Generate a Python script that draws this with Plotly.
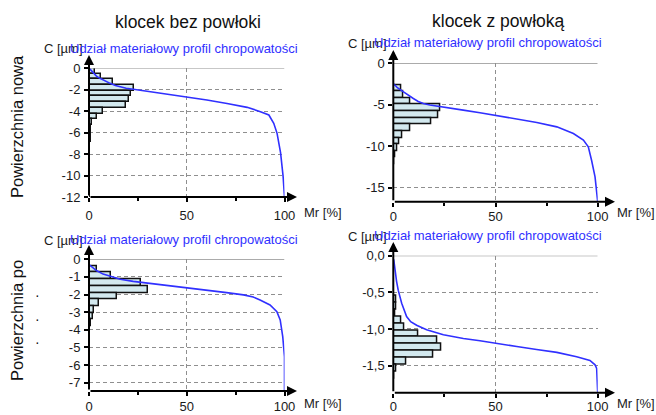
import plotly.graph_objects as go

W, H = 656, 415
FONT = "Liberation Sans, Arial, sans-serif"
BLUE = "#3030ff"
GRID = "#8f8f8f"
BARFILL = "#d3e9ef"

# ---------------- data ----------------
col_titles = ["klocek bez powłoki", "klocek z powłoką"]
row_titles = ["Powierzchnia nowa", "Powierzchnia po"]
panel_title = "Udział materiałowy profil chropowatości"
y_label = "C [µm]"
x_label = "Mr [%]"

x_ticks = [0, 50, 100]

# top-left: histogram (percent per bin), bins start at tl_start, width tl_w
tl_start, tl_w = 0.0, 0.53
tl_hist = [3.2, 6.0, 12.5, 23.0, 21.5, 20.5, 19.0, 7.0, 4.0, 1.6, 1.2, 1.0,
           0.8, 0.7, 0.6, 0.5, 0.5, 0.4, 0.4, 0.3, 0.3, 0.3, 0.3]
tl_mr = [0, 1, 2.2, 3.8, 5.6, 8, 10.8, 13.5, 15.9, 19, 22.7, 31, 39.8, 50,
         60.3, 70.6, 80.9, 87.7, 92, 94.5, 96.2, 98, 99.3, 100]
tl_c = [0, -0.2, -0.5, -0.75, -0.96, -1.2, -1.43, -1.62, -1.76, -1.88, -1.98,
        -2.2, -2.42, -2.67, -2.98, -3.3, -3.66, -4.06, -4.37, -5.15, -6.08,
        -7.9, -10.1, -12]
tl_yticks = [0, -2, -4, -6, -8, -10, -12]
tl_ytext = ["0", "-2", "-4", "-6", "-8", "-10", "-12"]
tl_yrange = [-12, 0]

# top-right
tr_start, tr_w = -2.6, 0.8
tr_hist = [3.7, 5.0, 8.5, 23.0, 22.0, 18.5, 8.5, 4.2, 2.7, 1.8, 0.9, 0.5]
tr_mr = [0.3, 2, 5, 7.5, 9.8, 12.2, 14.7, 17.9, 21.2, 26.1, 34.2, 42.4, 50.6,
         60.4, 70.2, 80, 88.1, 93, 95.4, 97, 98.7, 100]
tr_c = [-2.5, -2.95, -3.45, -3.9, -4.25, -4.6, -4.85, -5.04, -5.15, -5.32,
        -5.65, -5.97, -6.33, -6.73, -7.14, -7.67, -8.47, -9.27, -10.08, -11.7,
        -13.7, -16.7]
tr_yticks = [0, -5, -10, -15]
tr_ytext = ["0", "-5", "-10", "-15"]
tr_yrange = [-16.7, 0]

# bottom-left
bl_start, bl_w = 0.0, 0.38
bl_hist = [0.5, 3.9, 11.3, 26.7, 30.0, 14.2, 5.1, 2.6, 2.2, 0.8, 0.6, 0.5,
           0.4, 0.3, 0.3, 0.3, 0.2, 0.2, 0.2, 0.2]
bl_mr = [0, 1.8, 3.8, 7.2, 11.5, 16, 22.6, 31.1, 39.7, 49.9, 60.2, 70.4, 79,
         84, 87.5, 92.6, 96.1, 97.8, 99.1, 100, 100]
bl_c = [-0.3, -0.48, -0.64, -0.84, -0.99, -1.13, -1.25, -1.36, -1.47, -1.6,
        -1.74, -1.89, -2.02, -2.14, -2.31, -2.59, -2.97, -3.44, -4.39, -5.52,
        -7.47]
bl_yticks = [0, -1, -2, -3, -4, -5, -6, -7]
bl_ytext = ["0", "-1", "-2", "-3", "-4", "-5", "-6", "-7"]
bl_yrange = [-7.47, 0]

# bottom-right
br_start, br_w = -0.548, 0.094
br_hist = [1.6, 1.6, 1.0, 3.9, 5.4, 12.4, 21.6, 23.3, 19.4, 6.2, 1.3, 0.5]
br_mr = [0.2, 0.8, 1.6, 2.4, 4.1, 6.5, 8.5, 11.4, 16.3, 24.5, 34.3, 42.4,
         50.6, 60.4, 70.1, 80, 89.7, 96.2, 98.7, 99.5, 100]
br_c = [-0.05, -0.22, -0.35, -0.47, -0.65, -0.83, -0.9, -0.95, -1.01, -1.08,
        -1.13, -1.16, -1.2, -1.24, -1.28, -1.32, -1.38, -1.43, -1.49, -1.54,
        -1.87]
br_yticks = [0, -0.5, -1.0, -1.5]
br_ytext = ["0,0", "-0,5", "-1,0", "-1,5"]
br_yrange = [-1.87, 0]

# ---------------- layout geometry (pixels) ----------------
panels = [
    dict(x0=89, x1=284.5, yt=68, yb=197, ytip=55, xtip=297, lab=212, ttl=48, cy=49,
         so=2, start=tl_start, w=tl_w, hist=tl_hist, mr=tl_mr, c=tl_c,
         yt_v=tl_yticks, yt_t=tl_ytext, yr=tl_yrange),
    dict(x0=393.3, x1=597.7, yt=63.3, yb=201.7, ytip=50, xtip=615, lab=212, ttl=43, cy=44,
         so=-1, start=tr_start, w=tr_w, hist=tr_hist, mr=tr_mr, c=tr_c,
         yt_v=tr_yticks, yt_t=tr_ytext, yr=tr_yrange),
    dict(x0=89, x1=284.5, yt=259.3, yb=391, ytip=245, xtip=297, lab=403, ttl=239, cy=240,
         so=-1, start=bl_start, w=bl_w, hist=bl_hist, mr=bl_mr, c=bl_c,
         yt_v=bl_yticks, yt_t=bl_ytext, yr=bl_yrange),
    dict(x0=393.3, x1=597.7, yt=255.7, yb=392.7, ytip=242, xtip=615, lab=403, ttl=235, cy=236,
         so=-2, start=br_start, w=br_w, hist=br_hist, mr=br_mr, c=br_c,
         yt_v=br_yticks, yt_t=br_ytext, yr=br_yrange),
]

fig = go.Figure()
annotations = []
shapes = []

for i, p in enumerate(panels, start=1):
    sx = "" if i == 1 else str(i)
    xa, ya = "x" + sx, "y" + sx
    centers = [p["start"] - (k + 0.5) * p["w"] for k in range(len(p["hist"]))]
    fig.add_trace(go.Bar(
        x=p["hist"], y=centers, base=0, width=p["w"], orientation="h",
        marker=dict(color=BARFILL, line=dict(color="#111111", width=1.5)),
        xaxis=xa, yaxis=ya, showlegend=False, hoverinfo="skip"))
    fig.add_trace(go.Scatter(
        x=p["mr"], y=p["c"], mode="lines", line=dict(color=BLUE, width=1.6),
        xaxis=xa, yaxis=ya, showlegend=False, cliponaxis=False))

    xd = [p["x0"] / W, p["x1"] / W]
    yd = [1 - p["yb"] / H, 1 - p["yt"] / H]
    common = dict(showline=False, zeroline=False, showgrid=True, automargin=False,
                  gridcolor=GRID, griddash="4px,3px", gridwidth=1,
                  ticks="outside", ticklen=4, tickwidth=1.5, tickcolor="#000",
                  tickfont=dict(family=FONT, size=13, color="#1a1a1a"),
                  fixedrange=True)
    fig.update_layout(**{
        ("xaxis" + sx): dict(domain=xd, range=[0, 100], anchor=ya,
                             tickvals=x_ticks, ticktext=[str(v) for v in x_ticks],
                             minor=dict(dtick=25, ticks="outside", ticklen=3,
                                        tickcolor="#000", showgrid=False),
                             ticklabelstandoff=p["so"], **common),
        ("yaxis" + sx): dict(domain=yd, range=p["yr"], anchor=xa,
                             tickvals=p["yt_v"], ticktext=p["yt_t"],
                             ticklabelstandoff=1, **common),
    })
    # solid top border at C = 0
    shapes.append(dict(type="line", xref=xa, yref=ya, x0=0, x1=100, y0=0, y1=0,
                       line=dict(color=GRID, width=1.2)))
    # axis arrows
    annotations.append(dict(xref="paper", yref="paper", x=p["xtip"] / W,
                            y=1 - p["yb"] / H, ax=-(p["xtip"] - p["x0"]), ay=0,
                            text="", showarrow=True, arrowhead=2, arrowsize=1,
                            arrowwidth=2, arrowcolor="#000", standoff=0))
    annotations.append(dict(xref="paper", yref="paper", x=p["x0"] / W,
                            y=1 - p["ytip"] / H, ax=0, ay=(p["yb"] - p["ytip"]),
                            text="", showarrow=True, arrowhead=2, arrowsize=1,
                            arrowwidth=2, arrowcolor="#000", standoff=0))
    # labels
    annotations.append(dict(xref="paper", yref="paper", x=(p["x1"] + 17) / W,
                            y=1 - p["lab"] / H, xanchor="left", yanchor="middle",
                            text=x_label, showarrow=False,
                            font=dict(family=FONT, size=13, color="#1a1a1a")))
    annotations.append(dict(xref="paper", yref="paper", x=(p["x0"] - 47) / W,
                            y=1 - p["cy"] / H, xanchor="left", yanchor="middle",
                            text=y_label, showarrow=False,
                            font=dict(family=FONT, size=13, color="#1a1a1a")))
    annotations.append(dict(xref="paper", yref="paper", x=(p["x0"] - 21) / W,
                            y=1 - p["ttl"] / H, xanchor="left", yanchor="middle",
                            text=panel_title, showarrow=False,
                            font=dict(family=FONT, size=13, color=BLUE)))

# column titles
for txt, cx, cy in zip(col_titles, [187.5, 498], [22, 21]):
    annotations.append(dict(xref="paper", yref="paper", x=cx / W, y=1 - cy / H,
                            text=txt, showarrow=False, xanchor="center",
                            yanchor="middle",
                            font=dict(family=FONT, size=17.5, color="#111")))
# row titles
for txt, cy in zip(row_titles, [127, 321]):
    annotations.append(dict(xref="paper", yref="paper", x=17 / W, y=1 - cy / H,
                            text=txt, showarrow=False, textangle=-90,
                            xanchor="center", yanchor="middle",
                            font=dict(family=FONT, size=16.5, color="#111")))
for cy in [295, 319, 342]:
    annotations.append(dict(xref="paper", yref="paper", x=37 / W, y=1 - cy / H,
                            text="·", showarrow=False, xanchor="center",
                            yanchor="middle",
                            font=dict(family=FONT, size=14, color="#111")))

fig.update_layout(width=W, height=H, margin=dict(l=0, r=0, t=0, b=0),
                  paper_bgcolor="white", plot_bgcolor="white",
                  bargap=0, annotations=annotations, shapes=shapes,
                  font=dict(family=FONT))
fig.write_html("out.html", config={"displayModeBar": False},
               post_script="document.body.style.margin='0px';"
                           "document.body.style.overflow='hidden';")
